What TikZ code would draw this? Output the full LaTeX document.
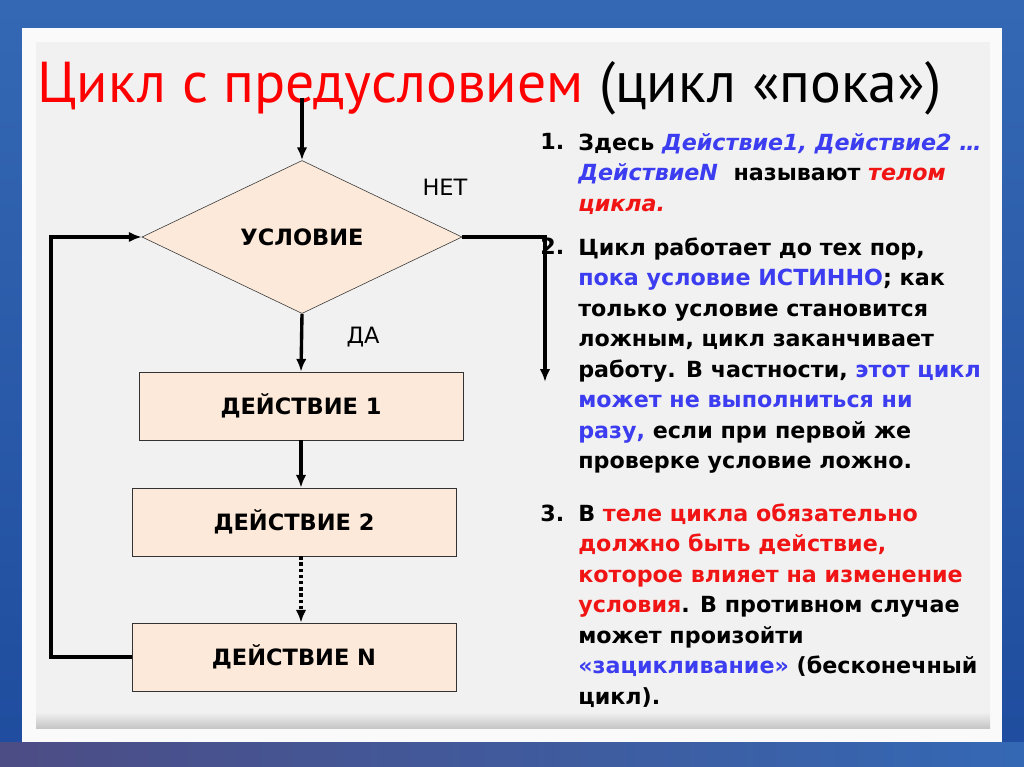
\documentclass[tikz,border=0pt]{standalone}
\usepackage{fontspec}
\setmainfont{DejaVu Sans}
\newfontfamily\titlefont{PT Sans}
\usetikzlibrary{shapes.geometric,arrows.meta}

\definecolor{peach}{HTML}{FCE9D9}
\definecolor{panelgrey}{HTML}{F1F1F1}
\definecolor{skytop}{HTML}{3468B4}
\definecolor{skybottom}{HTML}{1F4C9E}
\definecolor{txtblue}{HTML}{3C3CF0}
\definecolor{txtred}{HTML}{F01414}

\newcommand{\bl}[1]{\textcolor{txtblue}{#1}}
\newcommand{\rd}[1]{\textcolor{txtred}{#1}}
\newcommand{\firstline}{\rule{0pt}{16pt}}

\begin{document}
\begin{tikzpicture}[
        x=0.025cm, y=-0.025cm,
        flow/.style={line width=2.4pt,->,>={Latex[length=3.2mm,width=2.6mm]}},
        block/.style={draw=black!80,fill=peach,minimum width=8.1cm,minimum height=1.7cm,
            font=\bfseries\fontsize{16}{18}\selectfont},
        decision/.style={diamond,draw=black!80,fill=peach,aspect=2,inner sep=0pt,
            minimum width=8cm,minimum height=3.825cm,font=\bfseries\fontsize{16}{18}\selectfont},
        answer/.style={font=\fontsize{16}{18}\selectfont},
        number/.style={anchor=base west,inner sep=0pt,font=\bfseries\fontsize{15.8}{21.7}\selectfont},
        note/.style={anchor=north west,align=left,inner sep=0pt,
            font=\bfseries\fontsize{15.8}{21.7}\selectfont}
    ]
    \useasboundingbox (0,0) rectangle (1024,767);
    % background and panel
    \shade[top color=skytop,bottom color=skybottom] (0,0) rectangle (1024,767);
    \shade[left color=black!45!blue!40!gray,right color=skytop] (0,742) rectangle (1024,767);
    \fill[white!96!gray] (22,28) rectangle (1002,742);
    \fill[panelgrey] (36,42) rectangle (990,728);
    \shade[top color=panelgrey,bottom color=gray!45] (36,712) rectangle (990,728);

    % title
    \node[anchor=base west,inner sep=0pt] (title) at (37,103)
        {\titlefont\fontsize{41}{44}\selectfont\textcolor{red}{Цикл с предусловием} (цикл «пока»)};

    % flowchart
    \coordinate (entry) at (302,98);
    \coordinate (exit) at (545,382);
    \coordinate (loop) at (51,450);
    \node[decision] (cond) at (302,237) {УСЛОВИЕ};
    \node[block] (act1) at (301,406) {ДЕЙСТВИЕ 1};
    \node[block] (act2) at (294,522) {ДЕЙСТВИЕ 2};
    \node[block] (actN) at (294,657) {ДЕЙСТВИЕ N};
    \node[answer] (no) at (445,187) {НЕТ};
    \node[answer] (yes) at (363,337) {ДА};

    % notes
    \node[number] (num1) at (540,150) {1.};
    \node[note] (item1) at (578,127.5) {\firstline Здесь \bl{\itshape Действие1, Действие2 …}\\
        \bl{\itshape ДействиеN} \ называют \rd{\itshape телом}\\
        \rd{\itshape цикла.}};
    \node[number] (num2) at (540,255) {2.};
    \node[note] (item2) at (578,232.5) {\firstline Цикл работает до тех пор,\\
        \bl{пока условие ИСТИННО}; как\\
        только условие становится\\
        ложным, цикл заканчивает\\
        работу. В частности, \bl{этот цикл}\\
        \bl{может не выполниться ни}\\
        \bl{разу,} если при первой же\\
        проверке условие ложно.};
    \node[number] (num3) at (540,521) {3.};
    \node[note] (item3) at (578,498.5) {\firstline В \rd{теле цикла обязательно}\\
        \rd{должно быть действие,}\\
        \rd{которое влияет на изменение}\\
        \rd{условия}. В противном случае\\
        может произойти\\
        \bl{«зацикливание»} (бесконечный\\
        цикл).};

    % connectors
    \draw[flow] (entry) -- (cond.north);
    \draw[flow] (cond.south) -- (act1.north);
    \draw[flow] (act1.south) -- (act1.south |- act2.north);
    \draw[flow,dotted] (act1.south |- act2.south) -- (act1.south |- actN.north);
    \draw[flow] (cond.east) -| (exit);
    \draw[flow] (actN.west) -| (loop) |- (cond.west);
\end{tikzpicture}
\end{document}
